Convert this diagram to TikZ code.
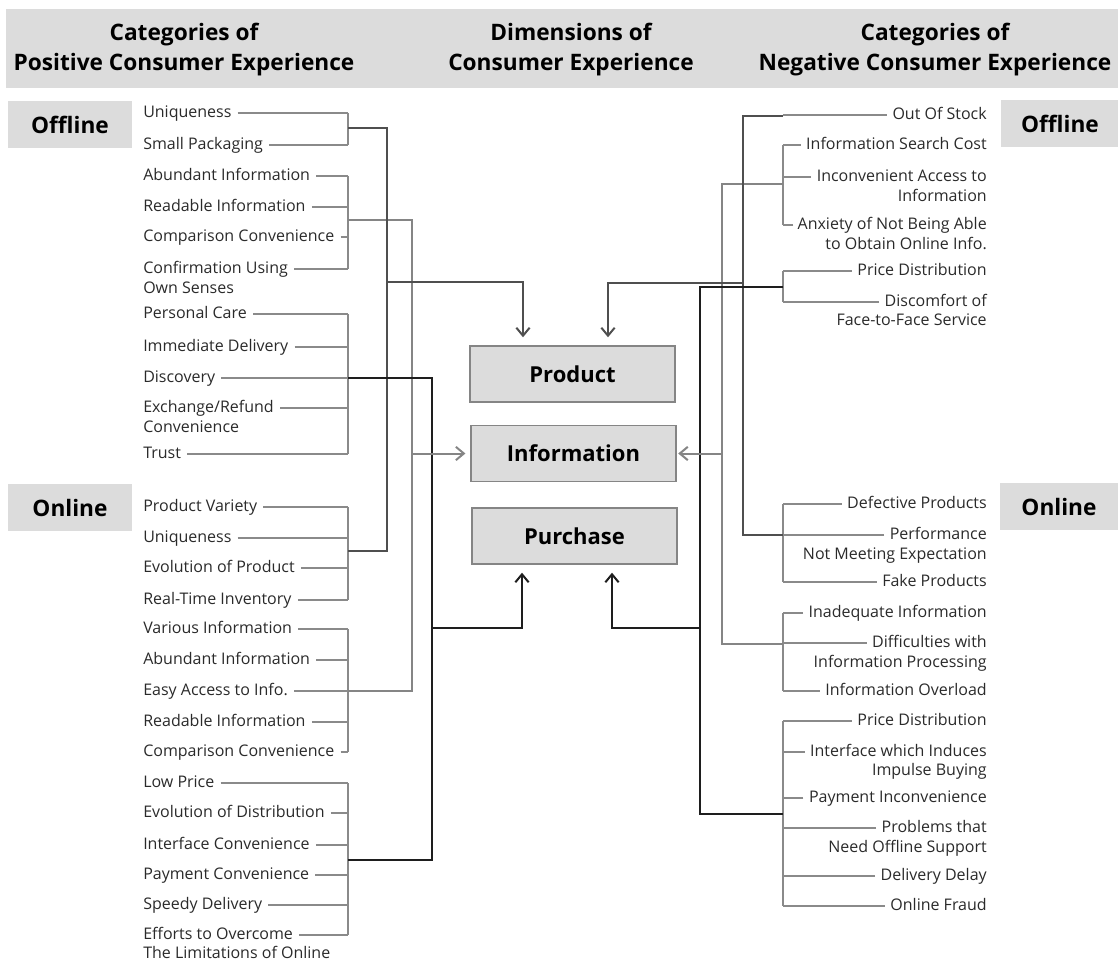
\documentclass[tikz,border=0pt]{standalone}
\usepackage{fontspec}
\setmainfont{Open Sans}
\usetikzlibrary{arrows.meta}
\definecolor{band}{HTML}{DCDCDC}
\definecolor{brc}{HTML}{8A8A8A}
\definecolor{cdark}{HTML}{4F4F4F}
\definecolor{cmid}{HTML}{858585}
\definecolor{cblk}{HTML}{1E1E1E}
\definecolor{txt}{HTML}{2A2A2A}
\begin{document}
\begin{tikzpicture}[x=0.75pt,y=-0.75pt,
  litem/.style={anchor=west,inner sep=0pt,font=\fontsize{12}{14}\selectfont,text=txt,text height=8.6pt,text depth=2.4pt},
  ritem/.style={litem,anchor=east},
  head/.style={align=center,font=\bfseries\fontsize{17}{22.5}\selectfont,text=black},
  tag/.style={fill=band,minimum width=93pt,minimum height=35pt,inner sep=0pt,font=\bfseries\fontsize{17}{20}\selectfont},
  dim/.style={fill=band,draw=cmid,line width=1.1pt,minimum width=154pt,minimum height=42pt,inner sep=0pt,font=\bfseries\fontsize{16.5}{20}\selectfont},
  br/.style={draw=brc,line width=1.4pt},
  cP/.style={draw=cdark,line width=1.5pt},
  cI/.style={draw=cmid,line width=1.5pt},
  cU/.style={draw=cblk,line width=1.5pt},
  arr/.style={-{Straight Barb[length=6pt,width=10pt]},shorten >=6pt}
]
\useasboundingbox (0,0) rectangle (1118,963);
% header band
\fill[band] (6,9) rectangle (1118,88);
\node[head] (h1) at (184,50) {Categories of\\Positive Consumer Experience};
\node[head] (h2) at (571,50) {Dimensions of\\Consumer Experience};
\node[head] (h3) at (935,50) {Categories of\\Negative Consumer Experience};
% side tags
\node[tag] (tOffL) at (70,124.5) {Offline};
\node[tag] (tOnL) at (70,507.5) {Online};
\node[tag,minimum width=88pt] (tOffR) at (1060,123.5) {Offline};
\node[tag,minimum width=89pt] (tOnR) at (1059,506.5) {Online};
% dimension boxes
\node[dim] (prod) at (572.5,374) {Product};
\node[dim] (info) at (573.5,453.5) {Information};
\node[dim] (purc) at (574.5,536) {Purchase};

% left items
\node[litem] (l1) at (143,113) {Uniqueness};
\node[litem] (l2) at (143,145) {Small Packaging};
\node[litem] (l3) at (143,176) {Abundant Information};
\node[litem] (l4) at (143,207) {Readable Information};
\node[litem] (l5) at (143,237) {Comparison Convenience};
\node[litem] (l6) at (143,269) {Confirmation Using};
\node[litem] (l6b) at (143,289) {Own Senses};
\node[litem] (l7) at (143,314) {Personal Care};
\node[litem] (l8) at (143,347) {Immediate Delivery};
\node[litem] (l9) at (143,378) {Discovery};
\node[litem] (l10) at (143,408) {Exchange/Refund};
\node[litem] (l10b) at (143,428) {Convenience};
\node[litem] (l11) at (143,454) {Trust};
\node[litem] (l12) at (143,507) {Product Variety};
\node[litem] (l13) at (143,538) {Uniqueness};
\node[litem] (l14) at (143,568) {Evolution of Product};
\node[litem] (l15) at (143,600) {Real-Time Inventory};
\node[litem] (l16) at (143,629) {Various Information};
\node[litem] (l17) at (143,660) {Abundant Information};
\node[litem] (l18) at (143,691) {Easy Access to Info.};
\node[litem] (l19) at (143,722) {Readable Information};
\node[litem] (l20) at (143,752) {Comparison Convenience};
\node[litem] (l21) at (143,783) {Low Price};
\node[litem] (l22) at (143,813) {Evolution of Distribution};
\node[litem] (l23) at (143,845) {Interface Convenience};
\node[litem] (l24) at (143,875) {Payment Convenience};
\node[litem] (l25) at (143,905) {Speedy Delivery};
\node[litem] (l26) at (143,935) {Efforts to Overcome};
\node[litem] (l26b) at (143,954) {The Limitations of Online};

% right items
\node[ritem] (r1) at (987,115) {Out Of Stock};
\node[ritem] (r2) at (987,145) {Information Search Cost};
\node[ritem] (r3) at (987,177) {Inconvenient Access to};
\node[ritem] (r3b) at (987,197) {Information};
\node[ritem] (r4) at (987,225) {Anxiety of Not Being Able};
\node[ritem] (r4b) at (987,245) {to Obtain Online Info.};
\node[ritem] (r5) at (987,271) {Price Distribution};
\node[ritem] (r6) at (987,302) {Discomfort of};
\node[ritem] (r6b) at (987,321) {Face-to-Face Service};
\node[ritem] (r7) at (987,504) {Defective Products};
\node[ritem] (r8) at (987,535) {Performance};
\node[ritem] (r8b) at (987,555) {Not Meeting Expectation};
\node[ritem] (r9) at (987,582) {Fake Products};
\node[ritem] (r10) at (987,613) {Inadequate Information};
\node[ritem] (r11) at (987,643) {Difficulties with};
\node[ritem] (r11b) at (987,663) {Information Processing};
\node[ritem] (r12) at (987,691) {Information Overload};
\node[ritem] (r13) at (987,721) {Price Distribution};
\node[ritem] (r14) at (987,752) {Interface which Induces};
\node[ritem] (r14b) at (987,771) {Impulse Buying};
\node[ritem] (r15) at (987,798) {Payment Inconvenience};
\node[ritem] (r16) at (987,828) {Problems that};
\node[ritem] (r16b) at (987,848) {Need Offline Support};
\node[ritem] (r17) at (987,876) {Delivery Delay};
\node[ritem] (r18) at (987,906) {Online Fraud};

% reference columns
\coordinate (bxL) at (348,0);
\coordinate (bxR) at (783,0);
\coordinate (vA) at (387,0);
\coordinate (vB) at (412,0);
\coordinate (vC) at (432,0);
\coordinate (vP) at (743,0);
\coordinate (vI) at (722,0);
\coordinate (vU) at (700,0);

% left brackets: ticks
\foreach \n in {l1,l2,l3,l4,l5,l6,l7,l8,l9,l10,l11,l12,l13,l14,l15,l16,l17,l18,l19,l20,l21,l22,l23,l24,l25,l26}
  \draw[br] ([xshift=4.5pt]\n.east) -- (\n.east -| bxL);
% left brackets: spines
\draw[br] (l1.east -| bxL) -- (l2.east -| bxL);
\draw[br] (l3.east -| bxL) -- (l6.east -| bxL);
\draw[br] (l7.east -| bxL) -- (l11.east -| bxL);
\draw[br] (l12.east -| bxL) -- (l15.east -| bxL);
\draw[br] (l16.east -| bxL) -- (l20.east -| bxL);
\draw[br] (l21.east -| bxL) -- (l26.east -| bxL);

% right brackets: ticks
\foreach \n in {r1,r2,r3,r5,r6,r7,r8,r9,r10,r11,r12,r13,r14,r15,r16,r17,r18}
  \draw[br] ([xshift=-4pt]\n.west) -- (\n.west -| bxR);
\draw[br] ([xshift=-3pt]r4.west) -- (r4.west -| bxR);
% right brackets: spines
\draw[br] (r2.west -| bxR) -- (r4.west -| bxR);
\draw[br] (r5.west -| bxR) -- (r6.west -| bxR);
\draw[br] (r7.west -| bxR) -- (r9.west -| bxR);
\draw[br] (r10.west -| bxR) -- (r12.west -| bxR);
\draw[br] (r13.west -| bxR) -- (r18.west -| bxR);

% junctions
\coordinate (jA) at (348,128);
\coordinate (jB) at (348,220);
\coordinate (jC) at (348,378);
\coordinate (jD) at (348,551);
\coordinate (jE) at (348,691);
\coordinate (jF) at (348,860);
\coordinate (jG) at (783,184);
\coordinate (jH) at (783,287);
\coordinate (jI) at (783,535);
\coordinate (jJ) at (783,644);
\coordinate (jK) at (783,814);
\coordinate (jO) at (783,116);

% left connectors
\draw[cI] (jB) -- (jB -| vB) -- (jE -| vB) -- (jE);
\draw[cP] (jA) -- (jA -| vA) -- (jD -| vA) -- (jD);
\draw[cU] (jC) -- (jC -| vC) -- (jF -| vC) -- (jF);
% right connectors
\draw[cI] (jG) -- (jG -| vI) -- (jJ -| vI) -- (jJ);
\draw[cP] (jO) -- (jO -| vP) -- (jI -| vP) -- (jI);
\draw[cU] (jH) -- (jH -| vU) -- (jK -| vU) -- (jK);

% arrows into dimension boxes
\draw[cP,arr] (vA |- 0,282) -- (523,282) -- (523,0 |- prod.north);
\draw[cP,arr] (vP |- 0,283) -- (608,283) -- (608,0 |- prod.north);
\draw[cI,-{Straight Barb[length=6pt,width=10pt]},shorten >=3.5pt] (vB |- info.west) -- (info.west);
\draw[cI,-{Straight Barb[length=6pt,width=10pt]},shorten >=1pt] (vI |- info.east) -- (info.east);
\draw[cU,arr] (vC |- 0,628) -- (522,628) -- (522,0 |- purc.south);
\draw[cU,arr] (vU |- 0,628) -- (612,628) -- (612,0 |- purc.south);
\end{tikzpicture}
\end{document}
